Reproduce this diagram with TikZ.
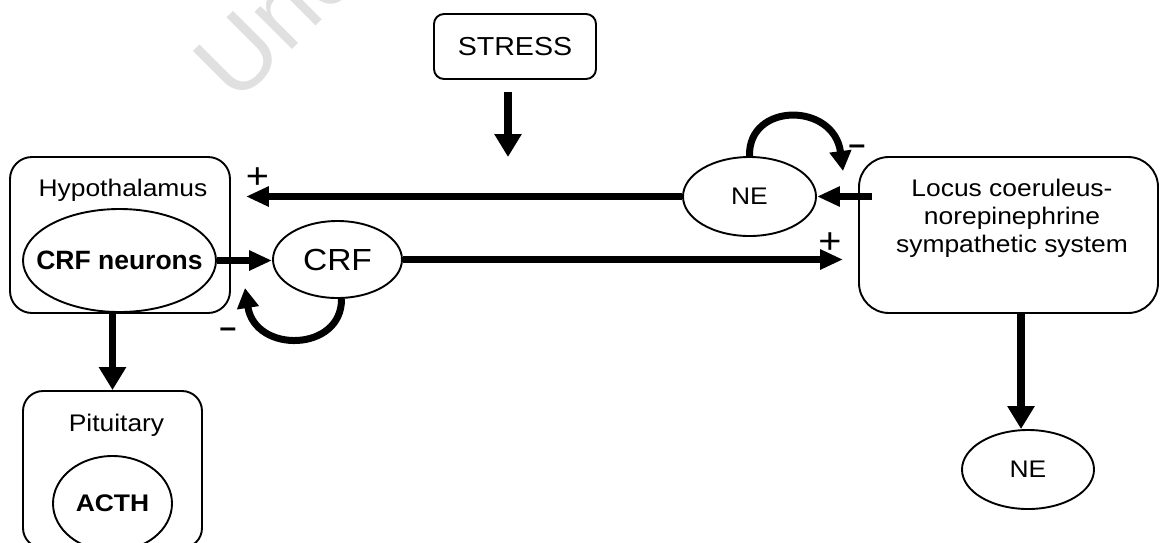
\documentclass[tikz,border=0pt]{standalone}
\usepackage{fontspec}
\setmainfont{Liberation Sans}[FakeStretch=1.1]
\newfontfamily\plainsans{Liberation Sans}
\usetikzlibrary{arrows.meta,shapes.geometric}

\begin{document}
\begin{tikzpicture}[x=1pt,y=-1pt,
  box/.style={draw, line width=1.9pt, rectangle, inner sep=0pt},
  oval/.style={draw, line width=1.9pt, ellipse, inner sep=0pt},
  harrow/.style={line width=6.5pt, -{Triangle[length=23pt,width=19pt]}},
  varrow/.style={line width=7.5pt, -{Triangle[length=23pt,width=26pt]}},
  selfarrow/.style={line width=7pt, -{Triangle[length=20pt,width=21pt]}},
  txt/.style={font=\fontsize{24}{28}\selectfont, inner sep=0pt},
  boldtxt/.style={font=\bfseries\fontsize{24}{28}\selectfont},
  plus/.style={font=\fontsize{36}{36}\selectfont, inner sep=0pt},
  minus/.style={font=\plainsans\bfseries\fontsize{30}{30}\selectfont, inner sep=0pt},
  watermark/.style={font=\plainsans\fontsize{100}{100}\selectfont, text=black!12,
    rotate=45, anchor=base west, inner sep=0pt}
]
\useasboundingbox (0,0) rectangle (1161,542);

% faint background watermark
\node[watermark] (wm) at (236,106) {Uncorrected Proof};

% stress input
\node[box, rounded corners=10pt, minimum width=162pt, minimum height=65pt,
      font=\fontsize{26}{30}\selectfont] (stress) at (515,46.5) {STRESS};
\coordinate (stressA) at (508,92);
\coordinate (stressB) at (508,157);
\draw[varrow] (stressA) -- (stressB);

% hypothalamus with CRF neurons
\node[box, rounded corners=22pt, minimum width=220pt, minimum height=156pt] (hyp) at (120,235) {};
\node[txt, anchor=base] (hyplab) at (123,196) {Hypothalamus};
\node[oval, minimum width=193pt, minimum height=103pt] (crfn) at (119.5,260.5) {};
\node[font=\plainsans\bfseries\fontsize{26.5}{30}\selectfont, inner sep=0pt] (crfntxt) at (crfn) {CRF neurons};

% CRF
\node[oval, minimum width=129pt, minimum height=77pt, font=\fontsize{30.5}{34}\selectfont] (crf) at (337.5,259.5) {CRF};

% NE released from the locus coeruleus
\node[oval, minimum width=133pt, minimum height=79pt, font=\fontsize{24}{28}\selectfont] (ne) at (749.5,196.5) {NE};

% locus coeruleus
\node[box, rounded corners=30pt, minimum width=299pt, minimum height=156pt] (lc) at (1008.5,235) {};
\node[txt, align=center] (lctxt) at (1012,218) {Locus coeruleus-\\norepinephrine\\sympathetic system};

% pituitary
\node[box, rounded corners=20pt, minimum width=179pt, minimum height=157pt] (pit) at (112.5,469.5) {};
\node[txt, anchor=base] (pitlab) at (116.5,431) {Pituitary};
\node[oval, minimum width=119pt, minimum height=95pt, boldtxt] (acth) at (112.5,503.5) {ACTH};

% peripheral NE
\node[oval, minimum width=132pt, minimum height=79pt, font=\fontsize{24}{28}\selectfont] (ne2) at (1028,469.5) {NE};

% connections
\draw[harrow] (ne.west) -- ([xshift=15pt]hyp.east |- ne.west);
\draw[harrow] (crfn.east) -- (crfn.east -| crf.west);
\draw[harrow] (crf.east) -- ([xshift=-15pt]lc.west |- crf.east);
\draw[harrow] ([xshift=14pt]lc.west |- ne.east) -- (ne.east);
\draw[varrow] (hyp.south -| pit.north) -- (pit.north);
\draw[varrow] ([xshift=-7pt]ne2.north |- lc.south) -- ([xshift=-7pt]ne2.north);

% feedback loops
\coordinate (neloopend) at (843,171);
\draw[selfarrow] (ne.north) .. controls (748,102) and (834,102) .. (neloopend);
\coordinate (crfloopend) at (245,288);
\draw[selfarrow] ([xshift=4pt]crf.south) .. controls (342,352) and (255,354) .. (crfloopend);

% signs
\node[plus] (p1) at (257.5,178) {+};
\node[minus] (m1) at (228,333) {–};
\node[plus] (p2) at (830,243) {+};
\node[minus] (m2) at (857,150) {–};
\end{tikzpicture}
\end{document}
